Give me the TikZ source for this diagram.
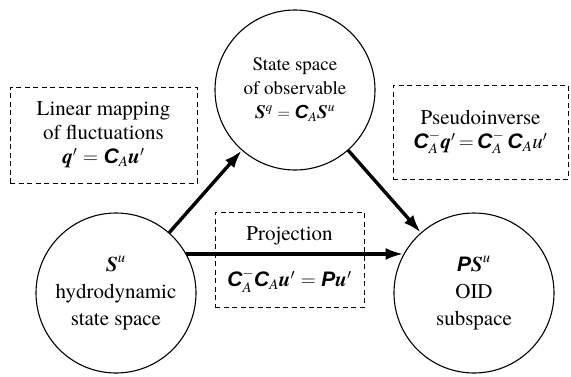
\documentclass[tikz,border=0pt]{standalone}
\usepackage{amsmath}
\usepackage{fontspec}
\IfFontExistsTF{texgyretermes-regular.otf}{%
  \setmainfont{texgyretermes}[Extension=.otf, UprightFont=*-regular, BoldFont=*-bold, ItalicFont=*-italic, BoldItalicFont=*-bolditalic]}{%
  \setmainfont{Latin Modern Roman}}
\newfontfamily\hvfont{Liberation Sans}
\usetikzlibrary{arrows.meta}
\newcommand\myBI[1]{\text{\rmfamily\bfseries\itshape #1}}
\newcommand\mySB[1]{\text{\hvfont\bfseries\itshape #1}}
\newcommand\myIT[1]{\text{\rmfamily\mdseries\itshape #1}}
\tikzset{
  circ/.style={circle, draw, line width=1.1pt, minimum size=160pt, inner sep=0pt, align=center, font=\rmfamily\fontsize{21}{27}\selectfont},
  dbox/.style={draw, dashed, dash pattern=on 5pt off 3.5pt, line width=0.9pt, inner sep=0pt, align=center, font=\rmfamily\fontsize{21}{24}\selectfont},
  arr/.style={line width=3.4pt, -{Latex[length=18pt,width=12pt]}}
}
\begin{document}
\begin{tikzpicture}[x=1pt,y=-1pt]
\useasboundingbox (0,0) rectangle (571,376);
\node[circ] (l) at (116,293) {$\myBI{S}^{\myIT{u}}$\\hydrodynamic\\state space};
\node[circ, font=\rmfamily\fontsize{19}{24}\selectfont] (t) at (295,90) {State space\\of observable\\$\myBI{S}^{\myIT{q}} = \mySB{C}_{\myIT{A}}\myBI{S}^{\myIT{u}}$};
\node[circ] (r) at (474,293) {$\mySB{P}\myBI{S}^{\myIT{u}}$\\OID\\subspace};
\node[dbox, minimum width=187pt, minimum height=96pt] (lb) at (103.5,135) {Linear mapping\\of fluctuations\\$\myBI{q}' = \mySB{C}_{\myIT{A}}\myBI{u}'$};
\node[dbox, minimum width=175pt, minimum height=94pt] (rb) at (480.5,132) {Pseudoinverse\\$\mySB{C}^{-}_{\myIT{A}}\myBI{q}'\,{=}\,\mySB{C}^{-}_{\myIT{A}}\,\mySB{C}_{\myIT{A}}\myIT{u}'$};
\node[dbox, minimum width=149pt, minimum height=95pt] (pb) at (289.5,259.5) {Projection\\[22pt]$\mySB{C}^{-}_{\myIT{A}}\mySB{C}_{\myIT{A}}\myBI{u}' = \mySB{P}\myBI{u}'$};
\draw[arr] (l) -- (t);
\draw[arr] (t) -- (r);
\draw[arr] (l.29) -- (r.151);
\end{tikzpicture}
\end{document}
